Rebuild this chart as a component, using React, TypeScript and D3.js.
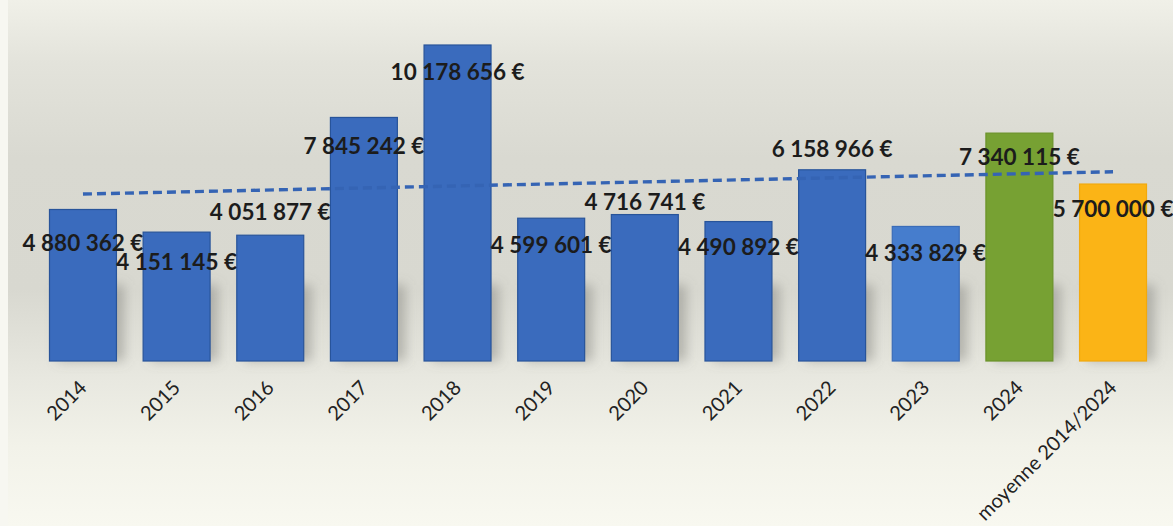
import React, { useEffect, useRef } from "react";
import * as d3 from "d3";

const categories: string[] = ["2014", "2015", "2016", "2017", "2018", "2019", "2020", "2021", "2022", "2023", "2024", "moyenne 2014/2024"];
const values: number[] = [4880362, 4151145, 4051877, 7845242, 10178656, 4599601, 4716741, 4490892, 6158966, 4333829, 7340115, 5700000];
const valueLabels: string[] = ["4 880 362 €", "4 151 145 €", "4 051 877 €", "7 845 242 €", "10 178 656 €", "4 599 601 €", "4 716 741 €", "4 490 892 €", "6 158 966 €", "4 333 829 €", "7 340 115 €", "5 700 000 €"];
const barKinds: string[] = ["year", "year", "year", "year", "year", "year", "year", "year", "year", "year2023", "current", "average"];

// layout (label vertical offsets from bar top, px)
const LABEL_DY = [33, 30, -23, 28, 27, 27, -13, 25, -21, 26, 24, 25];
const COLORS: Record<string, { fill: string; stroke: string }> = {
  year: { fill: "#3a6bbd", stroke: "#28549a" },
  year2023: { fill: "#467dcd", stroke: "#3a6cb8" },
  current: { fill: "#77a133", stroke: "#6a9229" },
  average: { fill: "#fbb416", stroke: "#f2a90c" },
};

const W = 1173;
const H = 526;

export default function App() {
  const ref = useRef<SVGSVGElement | null>(null);

  useEffect(() => {
    document.body.style.margin = "0";
    const svg = d3.select(ref.current);
    svg.selectAll("*").remove();

    const defs = svg.append("defs");
    const grad = defs.append("linearGradient").attr("id", "bg").attr("x1", 0).attr("y1", 0).attr("x2", 0).attr("y2", 1);
    [
      [0, "#f0f0e8"],
      [0.12, "#e3e3db"],
      [0.3, "#d9d9d1"],
      [0.55, "#d8d8d0"],
      [0.72, "#e8e8e0"],
      [0.85, "#f2f2e9"],
      [1, "#f8f8f0"],
    ].forEach(([o, c]) => grad.append("stop").attr("offset", o as number).attr("stop-color", c as string));
    const blur = defs.append("filter").attr("id", "blur").attr("x", "-50%").attr("y", "-50%").attr("width", "200%").attr("height", "200%");
    blur.append("feGaussianBlur").attr("stdDeviation", 6);

    svg.append("rect").attr("x", 0).attr("y", 0).attr("width", W).attr("height", H).attr("fill", "#f7f7f1");
    svg.append("rect").attr("x", 8).attr("y", 0).attr("width", W - 8).attr("height", H).attr("fill", "url(#bg)");

    const x = d3.scaleBand<string>().domain(categories).range([22.8, 1173.2]).padding(0.285);
    const y = d3.scaleLinear().domain([0, d3.max(values)!]).range([361, 45]);

    // shadows
    svg.append("g").attr("filter", "url(#blur)")
      .selectAll("rect").data(categories).join("rect")
      .attr("x", (d) => x(d)! + 8)
      .attr("y", (d, i) => Math.max(y(values[i]) + 20, 285))
      .attr("width", x.bandwidth())
      .attr("height", (d, i) => 361 - Math.max(y(values[i]) + 20, 285))
      .attr("fill", "#7a7a74")
      .attr("opacity", 0.45);

    // bars
    svg.append("g").selectAll("rect").data(categories).join("rect")
      .attr("x", (d) => x(d)!)
      .attr("y", (d, i) => y(values[i]))
      .attr("width", x.bandwidth())
      .attr("height", (d, i) => y(0) - y(values[i]))
      .attr("fill", (d, i) => COLORS[barKinds[i]].fill)
      .attr("stroke", (d, i) => COLORS[barKinds[i]].stroke)
      .attr("stroke-width", 1.2);

    // linear trend of the yearly values, extended over the average column
    const yearly = values.slice(0, 11);
    const n = yearly.length;
    const mx = d3.mean(d3.range(n))!;
    const my = d3.mean(yearly)!;
    const slope = d3.sum(yearly, (v, i) => (i - mx) * (v - my)) / d3.sum(d3.range(n), (i) => (i - mx) * (i - mx));
    const trend = [0, categories.length - 1].map((i) => ({ i, v: my + slope * (i - mx) }));
    const line = d3.line<{ i: number; v: number }>()
      .x((d) => x(categories[d.i])! + x.bandwidth() / 2)
      .y((d) => y(d.v));
    svg.append("path").datum(trend).attr("d", line)
      .attr("fill", "none").attr("stroke", "#3564b4").attr("stroke-width", 3.4)
      .attr("stroke-dasharray", "9 5").attr("stroke-linecap", "butt");

    // value labels
    svg.append("g").selectAll("text").data(categories).join("text")
      .attr("x", (d) => x(d)! + x.bandwidth() / 2)
      .attr("y", (d, i) => y(values[i]) + LABEL_DY[i])
      .attr("dy", "0.36em")
      .attr("text-anchor", "middle")
      .attr("font-family", "Lato, 'Open Sans', sans-serif")
      .attr("font-weight", 700)
      .attr("font-size", 22.5)
      .attr("fill", "#1c1c1c")
      .text((d, i) => valueLabels[i]);

    // category axis labels
    svg.append("g").selectAll("text").data(categories).join("text")
      .attr("transform", (d) => `translate(${x(d)! + x.bandwidth() / 2},${384}) rotate(-45)`)
      .attr("dy", "0.35em")
      .attr("text-anchor", "end")
      .attr("font-family", "Lato, 'Open Sans', sans-serif")
      .attr("font-size", 20)
      .attr("fill", "#222")
      .text((d) => d);
  }, []);

  return <svg ref={ref} width={W} height={H} style={{ display: "block" }} />;
}
